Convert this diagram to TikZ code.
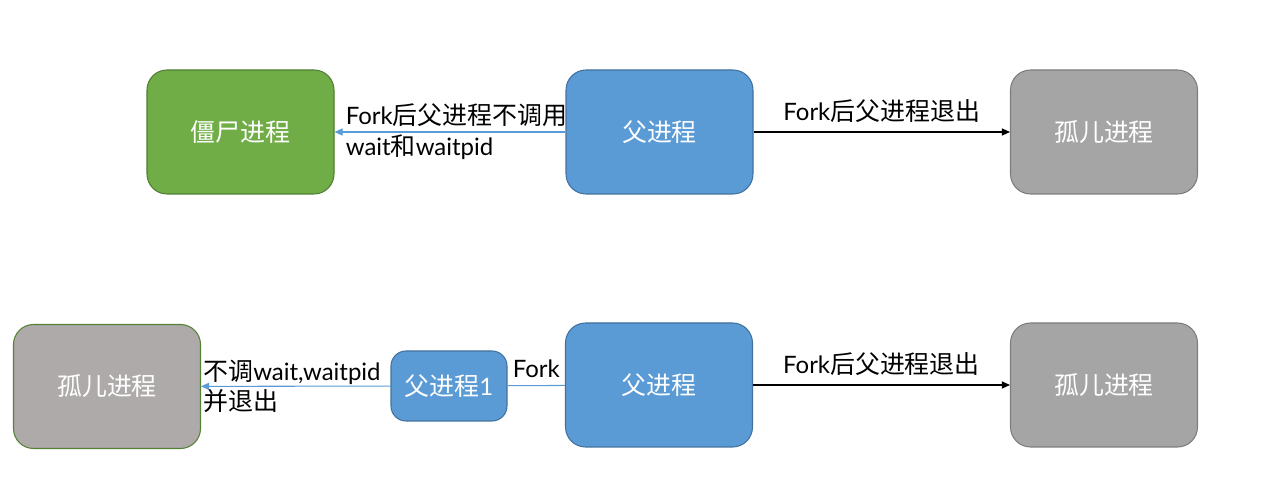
\documentclass[tikz,border=0pt]{standalone}
\usepackage{fontspec}
\setmainfont{Noto Sans CJK SC}
\newfontfamily\lat{Lato}[Scale=0.96]
\usepackage{xcolor}
\usetikzlibrary{positioning,arrows.meta}
\definecolor{cgreen}{RGB}{112,173,71}
\definecolor{cgreend}{RGB}{80,126,50}
\definecolor{cblue}{RGB}{91,155,213}
\definecolor{cblued}{RGB}{65,113,156}
\definecolor{cgray}{RGB}{165,165,165}
\definecolor{cgrayd}{RGB}{125,125,125}
\definecolor{cwarm}{RGB}{174,170,170}
\definecolor{cwarmd}{RGB}{84,130,53}

\begin{document}
\begin{tikzpicture}[
  font=\fontsize{14.2pt}{17.5pt}\selectfont,
  proc/.style={rounded corners=0.4cm,line width=0.6pt,minimum width=3.74cm,minimum height=2.48cm,
    inner sep=0pt,text=white},
  zombie/.style={proc,draw=cgreend,fill=cgreen},
  parent/.style={proc,draw=cblued,fill=cblue},
  orphan/.style={proc,draw=cgrayd,fill=cgray},
  small/.style={parent,minimum width=2.32cm,minimum height=1.40cm,rounded corners=0.3cm},
  lab/.style={align=left,inner sep=0pt,text=black},
  blk/.style={-{Triangle[length=1.6mm,width=1.4mm]},line width=0.6pt,black},
  blu/.style={-{Triangle[length=1.6mm,width=1.4mm]},line width=0.6pt,cblue},
]
\useasboundingbox (0,0) rectangle (25.28,9.7);

% =========== top row: zombie <- parent -> orphan ===========================
\node[zombie] (zb)  at (4.81,7.06)  {僵尸进程};
\node[parent] (pa1) at (13.19,7.06) {父进程};
\node[orphan] (or1) at (22.08,7.06) {孤儿进程};
\draw[blu] (pa1) -- (zb);
\node[lab,right=0.22cm of zb] {{\lat Fork}后父进程不调用\\{\lat wait}和{\lat waitpid}};
\draw[blk] (pa1) -- node[lab,above=0.18cm] {{\lat Fork}后父进程退出} (or1);

% =========== bottom row: orphan <- parent1 - parent -> orphan ==============
\node[orphan,draw=cwarmd,fill=cwarm] (or2) at (2.14,1.97) {孤儿进程};
\node[small]  (p1)  at (8.98,1.98)  {父进程{\lat 1}};
\node[parent] (pa2) at (13.18,2.0)  {父进程};
\node[orphan] (or3) at (22.08,2.0)  {孤儿进程};
\draw[line width=0.6pt,cblue] (pa2) -- node[lab,above=0.14cm] {\lat Fork} (p1);
\draw[blu] (p1) -- (or2);
\node[lab,right=0.04cm of or2] {不调{\lat wait,waitpid}\\并退出};
\draw[blk] (pa2) -- node[lab,above=0.18cm] {{\lat Fork}后父进程退出} (or3);

\end{tikzpicture}
\end{document}
